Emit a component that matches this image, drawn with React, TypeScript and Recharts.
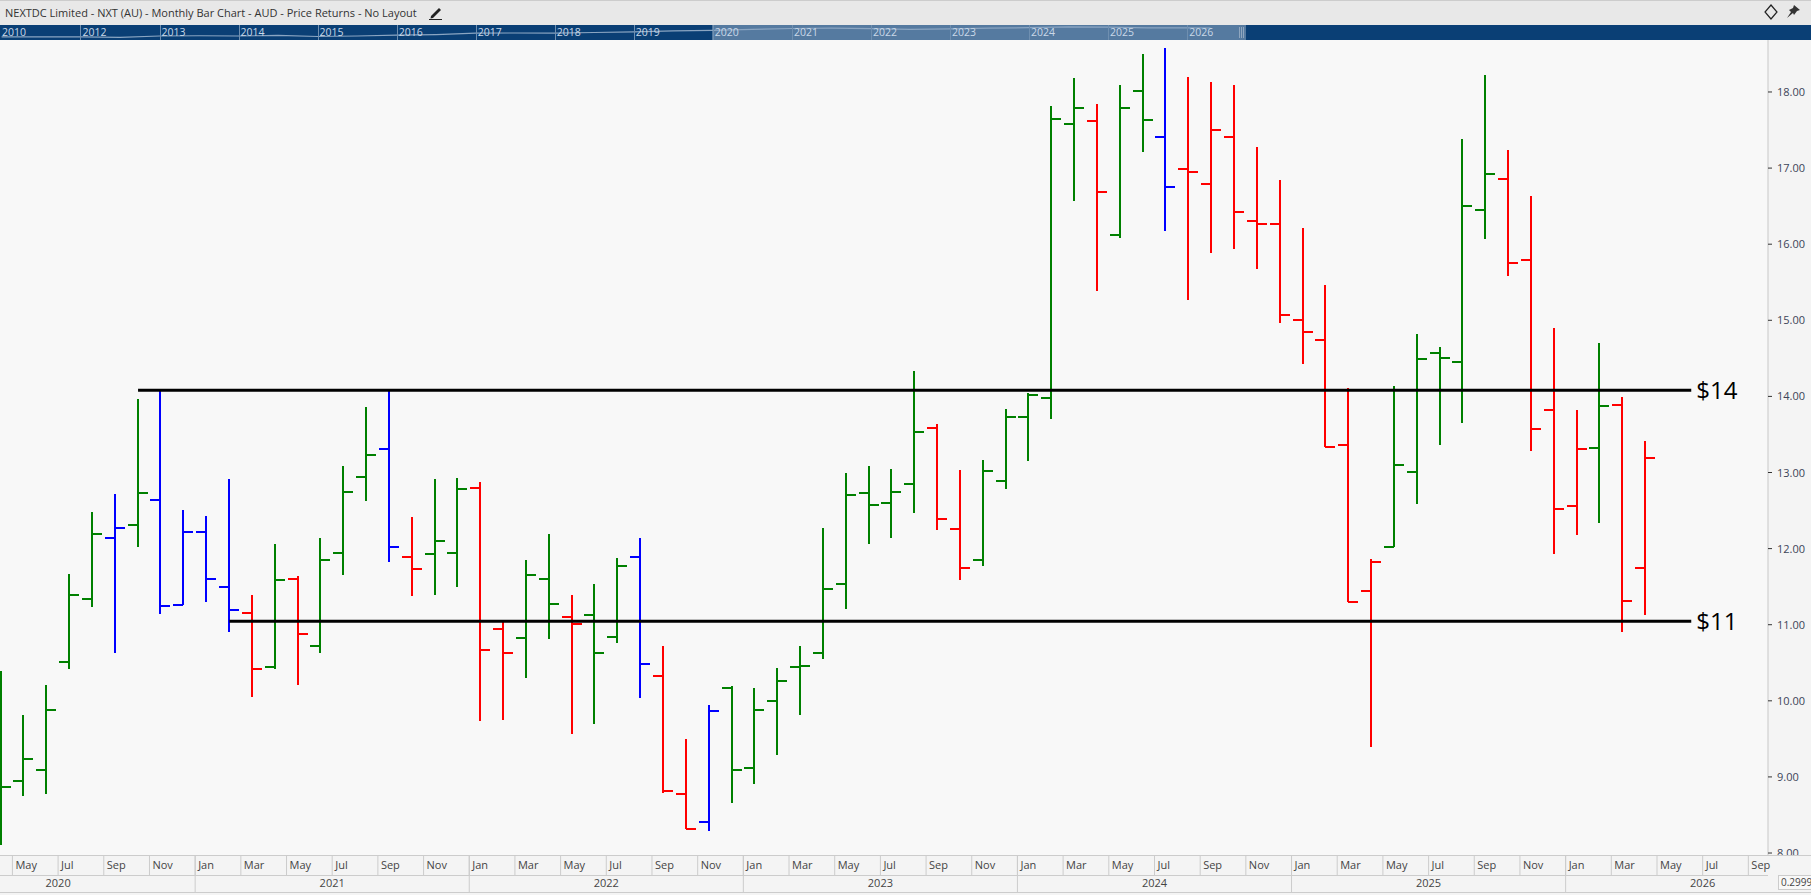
import React from 'react';
import { ComposedChart, LineChart, Line, Bar, XAxis, YAxis, ReferenceLine, ReferenceDot } from 'recharts';

// monthly bars, Apr 2020 to Apr 2026
const opens = [8.6, 8.95, 9.09, 10.51, 11.34, 12.14, 12.31, 12.64, 11.26, 12.22, 11.5, 11.15, 10.44, 11.6, 10.72, 11.94, 12.94, 13.31, 11.89, 11.93, 11.94, 12.8, 10.94, 10.83, 11.6, 11.1, 11.13, 10.84, 11.89, 10.33, 8.78, 8.41, 10.17, 9.12, 10.0, 10.44, 10.63, 11.53, 12.73, 12.6, 12.85, 13.58, 12.26, 11.85, 12.89, 13.73, 13.98, 17.58, 17.62, 16.12, 18.01, 17.41, 16.99, 16.79, 17.41, 16.31, 16.27, 15.0, 14.74, 13.36, 11.44, 12.02, 13.01, 14.57, 14.45, 16.45, 16.86, 15.79, 13.82, 12.56, 13.32, 13.89, 11.75];
const highs = [10.39, 9.81, 10.21, 11.67, 12.48, 12.72, 13.97, 14.07, 12.51, 12.43, 12.91, 11.39, 12.06, 11.64, 12.14, 13.09, 13.86, 14.07, 12.42, 12.91, 12.93, 12.88, 11.05, 11.85, 12.19, 11.39, 11.53, 11.88, 12.14, 10.72, 9.5, 9.94, 10.19, 10.17, 10.43, 10.72, 12.27, 12.99, 13.09, 13.05, 14.33, 13.64, 13.03, 13.16, 13.83, 14.04, 17.82, 18.18, 17.84, 18.09, 18.5, 18.58, 18.2, 18.13, 18.09, 17.28, 16.84, 16.21, 15.46, 14.11, 11.86, 14.14, 14.82, 14.65, 17.38, 18.22, 17.24, 16.63, 14.9, 13.82, 14.7, 13.99, 13.41];
const lows = [8.1, 8.75, 8.78, 10.42, 11.23, 10.63, 12.02, 11.14, 11.26, 11.3, 10.9, 10.05, 10.42, 10.21, 10.63, 11.65, 12.63, 11.82, 11.38, 11.39, 11.5, 9.73, 9.75, 10.3, 10.81, 9.56, 9.7, 10.76, 10.04, 8.79, 8.32, 8.29, 8.66, 8.91, 9.29, 9.81, 10.55, 11.21, 12.06, 12.14, 12.47, 12.24, 11.59, 11.77, 12.78, 13.15, 13.7, 16.57, 15.38, 16.08, 17.21, 16.17, 15.27, 15.88, 15.94, 15.67, 14.96, 14.43, 13.33, 11.3, 9.39, 12.02, 12.59, 13.36, 13.65, 16.07, 15.58, 13.28, 11.93, 12.18, 12.34, 10.9, 11.13];
const closes = [8.87, 9.23, 9.88, 11.39, 12.19, 12.27, 12.73, 11.25, 12.22, 11.6, 11.19, 10.42, 11.59, 10.88, 11.85, 12.74, 13.23, 12.02, 11.73, 12.1, 12.78, 10.67, 10.63, 11.65, 11.27, 11.01, 10.63, 11.77, 10.48, 8.81, 8.32, 9.87, 9.09, 9.88, 10.26, 10.46, 11.47, 12.7, 12.57, 12.74, 13.53, 12.39, 11.75, 13.02, 13.73, 14.02, 17.64, 17.79, 16.69, 17.79, 17.63, 16.75, 16.95, 17.5, 16.42, 16.27, 15.07, 14.85, 13.33, 11.3, 11.82, 13.1, 14.49, 14.5, 16.5, 16.92, 15.75, 13.57, 12.52, 13.31, 13.87, 11.31, 13.19];
const kinds = 'gggggbgbbbbrgrgggbrggrrggrggbrrbgggggggggrrgggggrggbrrrrrrrrrgggggrrrrgrr'.split('');

const monthTickPos = [0.5, 2.5, 4.5, 6.5, 8.5, 10.5, 12.5, 14.5, 16.5, 18.5, 20.5, 22.5, 24.5, 26.5, 28.5, 30.5, 32.5, 34.5, 36.5, 38.5, 40.5, 42.5, 44.5, 46.5, 48.5, 50.5, 52.5, 54.5, 56.5, 58.5, 60.5, 62.5, 64.5, 66.5, 68.5, 70.5, 72.5, 74.5, 76.5];
const monthLabels = ['May', 'Jul', 'Sep', 'Nov', 'Jan', 'Mar', 'May', 'Jul', 'Sep', 'Nov', 'Jan', 'Mar', 'May', 'Jul', 'Sep', 'Nov', 'Jan', 'Mar', 'May', 'Jul', 'Sep', 'Nov', 'Jan', 'Mar', 'May', 'Jul', 'Sep', 'Nov', 'Jan', 'Mar', 'May', 'Jul', 'Sep', 'Nov', 'Jan', 'Mar', 'May', 'Jul', 'Sep'];
const yearMidPos = [2.5, 14.5, 26.5, 38.5, 50.5, 62.5, 74.5];
const yearLabels = ['2020', '2021', '2022', '2023', '2024', '2025', '2026'];
const yearStartPos = [8.5, 20.5, 32.5, 44.5, 56.5, 68.5];
const priceTicks = [8, 9, 10, 11, 12, 13, 14, 15, 16, 17, 18];

const navYears = ['2010', '2012', '2013', '2014', '2015', '2016', '2017', '2018', '2019', '2020', '2021', '2022', '2023', '2024', '2025', '2026'];
const navTimes = [2011, 2011.5, 2012, 2012.5, 2013, 2013.5, 2014, 2014.5, 2015, 2015.5, 2016, 2016.5, 2017, 2017.5, 2018, 2018.5, 2019, 2019.5, 2020, 2020.5, 2021, 2021.5, 2022, 2022.5, 2023, 2023.5, 2024, 2024.5, 2025, 2025.5, 2026, 2026.3];
const navPrices = [1.2, 1.15, 1.2, 1.05, 1.5, 1.6, 1.5, 1.75, 1.3, 1.5, 1.9, 2.2, 3.2, 3.4, 3.3, 3.9, 4.6, 6.0, 7.0, 9.2, 11.5, 12.5, 11.0, 9.0, 10.5, 12.8, 14.5, 17.5, 16.5, 13.5, 13.5, 13.2];

const rows = opens.map((open, i) => ({
  i,
  range: [lows[i], highs[i]],
  open,
  close: closes[i],
  kind: kinds[i],
}));
const navRows = navTimes.map((t, i) => ({ t, price: navPrices[i] }));

const COLORS: any = { g: '#008000', r: '#ff0000', b: '#0000ff' };
const FONT = '"Open Sans", sans-serif';
const AXIS_X = 1768;

const OhlcBar = (props: any) => {
  const { x, y, width, height, payload } = props;
  const [low, high] = payload.range;
  const cx = Math.round(x + width / 2);
  const top = Math.min(y, y + height);
  const span = Math.abs(height);
  const toY = (v: number) => top + ((high - v) / (high - low)) * span;
  const color = COLORS[payload.kind];
  return (
    <g fill={color} shapeRendering="crispEdges">
      <rect x={cx - 1} y={top} width={2} height={span} />
      <rect x={cx - 10} y={toY(payload.open) - 1} width={10} height={2} />
      <rect x={cx} y={toY(payload.close) - 1} width={10} height={2} />
    </g>
  );
};

const MonthTick = (props: any) => {
  const { x, payload } = props;
  const label = monthLabels[monthTickPos.indexOf(payload.value)];
  return (
    <g>
      <line x1={x} x2={x} y1={855} y2={875} stroke="#cccccc" />
      <text x={x + 3} y={869} fontSize={11} fontFamily={FONT} fill="#444444">{label}</text>
    </g>
  );
};

const YearTick = (props: any) => {
  const { x, payload } = props;
  const idx = yearMidPos.indexOf(payload.value);
  if (idx < 0) {
    return <line x1={x} x2={x} y1={855} y2={892} stroke="#cccccc" />;
  }
  return (
    <text x={x} y={887} textAnchor="middle" fontSize={11} fontFamily={FONT} fill="#444444">{yearLabels[idx]}</text>
  );
};

const PriceTick = (props: any) => {
  const { y, payload } = props;
  return (
    <g clipPath="url(#priceClip)">
      <line x1={AXIS_X} x2={AXIS_X + 4} y1={y} y2={y} stroke="#333333" />
      <text x={1777} y={y + 4} fontSize={11} fontFamily={FONT} fill="#3c4458">{payload.value.toFixed(2)}</text>
    </g>
  );
};

const box = (left: number, top: number, width: number, height: number, background: string) => (
  <div style={{ position: 'absolute', left, top, width, height, background }} />
);

export default function App() {
  return (
    <div style={{ position: 'relative', width: 1811, height: 895, overflow: 'hidden', background: '#f4f4f4', fontFamily: FONT }}>
      <style>{'body{margin:0}'}</style>

      {box(0, 0, 1811, 25, '#e8e8e8')}
      {box(0, 0, 1811, 1, '#cccccc')}
      <div style={{ position: 'absolute', left: 5, top: 4, fontSize: 11, lineHeight: '18px', color: '#333333', whiteSpace: 'nowrap' }}>
        NEXTDC Limited - NXT (AU) - Monthly Bar Chart - AUD - Price Returns - No Layout
      </div>
      <svg style={{ position: 'absolute', left: 428, top: 5 }} width={16} height={16} viewBox="0 0 16 16">
        <path d="M3 11 L11 3 L13 5 L5 13 L2.5 13.5 Z" fill="#222222" />
        <rect x={1} y={14} width={13} height={1} fill="#222222" />
      </svg>
      <svg style={{ position: 'absolute', left: 1763, top: 4 }} width={16} height={16} viewBox="0 0 16 16">
        <path d="M8 1 L14 8 L8 15 L2 8 Z" fill="none" stroke="#222222" strokeWidth={1.2} />
      </svg>
      <svg style={{ position: 'absolute', left: 1784, top: 4 }} width={17} height={16} viewBox="0 0 17 16">
        <path d="M10 1 L16 6 L13 7 L10 11 L9 9 L3 14 L7 8 L5 6 L9 4 Z" fill="#333333" />
      </svg>

      {box(0, 25, 1811, 15, '#0a3f75')}
      {box(712, 25, 534, 15, '#557aa0')}
      {box(1239, 27, 1, 11, '#8fa6bf')}
      {box(1241, 27, 1, 11, '#8fa6bf')}
      {box(1243, 27, 1, 11, '#8fa6bf')}
      <div style={{ position: 'absolute', left: 0, top: 25 }}>
        <LineChart width={1811} height={15} data={navRows} margin={{ top: 0, right: 0, bottom: 0, left: 0 }}>
          <XAxis dataKey="t" type="number" domain={[2010.98, 2033.9]} hide />
          <YAxis type="number" scale="log" domain={[0.5, 30]} hide />
          <Line dataKey="price" stroke="#8aa5c2" strokeWidth={1.2} dot={false} isAnimationActive={false} />
        </LineChart>
      </div>
      {navYears.map((label, n) => {
        const left = n === 0 ? 0 : 1.4 + 79.05 * n;
        return (
          <React.Fragment key={label}>
            {n > 0 && box(left, 25, 1, 15, '#6f8fb0')}
            <div style={{ position: 'absolute', left: left + 2, top: 25, fontSize: 10.5, lineHeight: '15px', color: '#c9d8e8' }}>{label}</div>
          </React.Fragment>
        );
      })}

      {box(0, 40, 1768, 815, '#f8f8f8')}
      {box(0, 855, 1811, 1, '#cccccc')}
      {box(0, 875, 1768, 1, '#cccccc')}
      {box(0, 892, 1811, 1, '#cccccc')}
      <div style={{ position: 'absolute', left: 1778, top: 875, width: 33, height: 15, borderTop: '1px solid #cccccc', borderLeft: '1px solid #cccccc', borderBottom: '1px solid #cccccc', fontSize: 10, lineHeight: '13px', paddingLeft: 2, color: '#444444', boxSizing: 'border-box', background: '#f8f8f8', whiteSpace: 'nowrap' }}>
        0.2999
      </div>

      <div style={{ position: 'absolute', left: 0, top: 0 }}>
        <ComposedChart width={1811} height={895} data={rows} margin={{ top: 40, right: 0, bottom: 0, left: 0 }}>
          <defs>
            <clipPath id="priceClip">
              <rect x={1700} y={40} width={111} height={815} />
            </clipPath>
          </defs>
          <XAxis
            xAxisId="month"
            dataKey="i"
            type="number"
            domain={[-0.044, 77.36]}
            allowDataOverflow
            ticks={monthTickPos}
            interval={0}
            height={20}
            axisLine={false}
            tickLine={false}
            tick={<MonthTick />}
          />
          <XAxis
            xAxisId="year"
            dataKey="i"
            type="number"
            domain={[-0.044, 77.36]}
            allowDataOverflow
            ticks={[...yearMidPos, ...yearStartPos]}
            interval={0}
            height={20}
            axisLine={false}
            tickLine={false}
            tick={<YearTick />}
          />
          <YAxis
            yAxisId="price"
            orientation="right"
            type="number"
            domain={[7.974, 18.683]}
            allowDataOverflow
            ticks={priceTicks}
            interval={0}
            width={43}
            axisLine={{ stroke: '#c8c8c8' }}
            tickLine={false}
            tick={<PriceTick />}
          />
          <Bar xAxisId="month" yAxisId="price" dataKey="range" barSize={2} shape={<OhlcBar />} isAnimationActive={false} />
          <ReferenceLine
            xAxisId="month"
            yAxisId="price"
            segment={[{ x: 6, y: 14.08 }, { x: 74, y: 14.08 }]}
            stroke="#000000"
            strokeWidth={3}
          />
          <ReferenceLine
            xAxisId="month"
            yAxisId="price"
            segment={[{ x: 10, y: 11.045 }, { x: 74, y: 11.045 }]}
            stroke="#000000"
            strokeWidth={3}
          />
          <ReferenceDot
            xAxisId="month"
            yAxisId="price"
            x={74}
            y={14.08}
            r={0}
            label={{ value: '$14', position: 'right', fontSize: 24, fill: '#000000', fontFamily: FONT }}
          />
          <ReferenceDot
            xAxisId="month"
            yAxisId="price"
            x={74}
            y={11.045}
            r={0}
            label={{ value: '$11', position: 'right', fontSize: 24, fill: '#000000', fontFamily: FONT }}
          />
        </ComposedChart>
      </div>
    </div>
  );
}
